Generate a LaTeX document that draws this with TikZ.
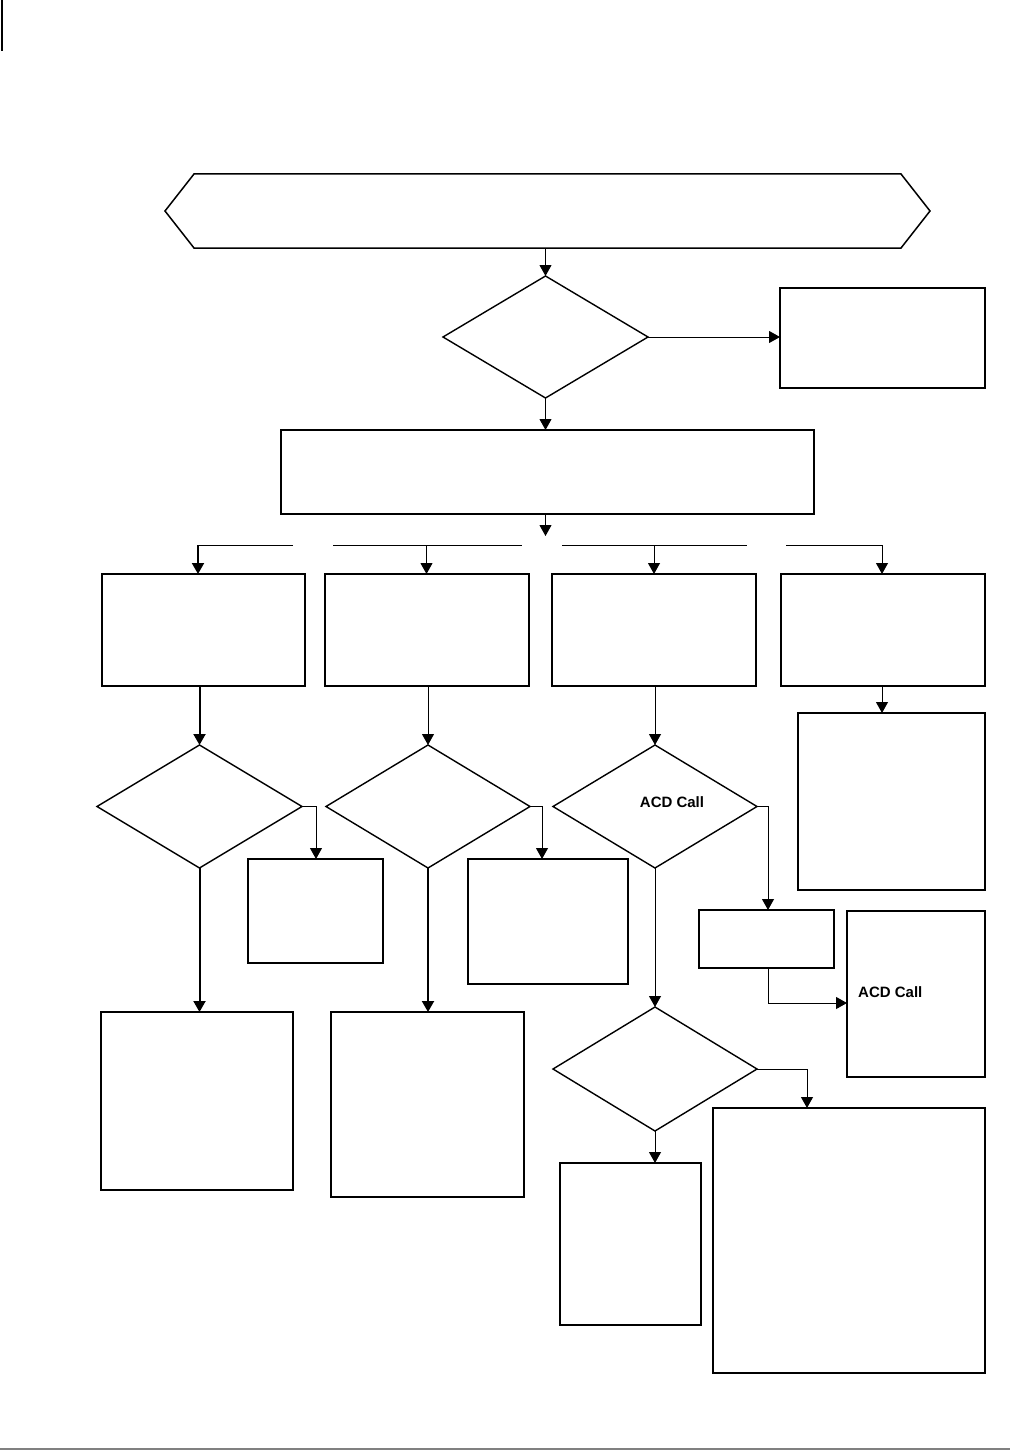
\documentclass[tikz,border=0pt]{standalone}
\usepackage{fontspec}
\setmainfont{Liberation Sans}
\usetikzlibrary{shapes.geometric,arrows.meta}
\tikzset{
  boxn/.style={draw,rectangle,line width=1.7pt,inner sep=0pt,outer sep=0pt},
  dia/.style={draw,diamond,line width=1.4pt,inner sep=0pt,outer sep=0pt},
  arr/.style={line width=1pt,-{Triangle[length=11pt,width=12pt]}},
  thickarr/.style={line width=2pt,-{Triangle[length=11pt,width=12pt]}},
  thinln/.style={line width=1pt},
  lbl/.style={font=\fontsize{15}{18}\selectfont\bfseries,inner sep=0pt}
}
\begin{document}
\begin{tikzpicture}[x=1pt,y=-1pt]
\useasboundingbox (0,0) rectangle (1010,1450);
% page decorations
\draw[line width=1.5pt] (2,0) -- (2,51);
\fill[gray] (0,1447.5) rectangle (1010,1450);
% hexagon
\node[inner sep=0pt,outer sep=0pt,minimum width=707pt,minimum height=74pt] (hex) at (547.5,211) {};
\draw[line width=1.5pt,line join=miter] (hex.north west) -- (hex.north east) -- ([xshift=29pt]hex.east) -- (hex.south east) -- (hex.south west) -- ([xshift=-29pt]hex.west) -- cycle;
% nodes
\node[dia,minimum width=205pt,minimum height=122pt] (D1) at (545.5,337) {};
\node[boxn,minimum width=205pt,minimum height=100pt] (R1) at (882.5,338) {};
\node[boxn,minimum width=533pt,minimum height=84pt] (Big) at (547.5,472) {};
\node[boxn,minimum width=203pt,minimum height=112pt] (B1) at (203.5,630) {};
\node[boxn,minimum width=204pt,minimum height=112pt] (B2) at (427,630) {};
\node[boxn,minimum width=204pt,minimum height=112pt] (B3) at (654,630) {};
\node[boxn,minimum width=204pt,minimum height=112pt] (B4) at (883,630) {};
\node[dia,minimum width=205pt,minimum height=123pt] (D2) at (199.5,806.5) {};
\node[dia,minimum width=204pt,minimum height=123pt] (D3) at (428,806.5) {};
\node[dia,minimum width=204pt,minimum height=123pt] (D4) at (655,806.5) {};
\node[dia,minimum width=204pt,minimum height=124pt] (D5) at (655,1069) {};
\node[boxn,minimum width=135pt,minimum height=104pt] (S1) at (315.5,911) {};
\node[boxn,minimum width=160pt,minimum height=125pt] (S2) at (548,921.5) {};
\node[boxn,minimum width=192pt,minimum height=178pt] (L1) at (197,1101) {};
\node[boxn,minimum width=193pt,minimum height=185pt] (L2) at (427.5,1104.5) {};
\node[boxn,minimum width=187pt,minimum height=177pt] (R2) at (891.5,801.5) {};
\node[boxn,minimum width=135pt,minimum height=58pt] (M) at (766.5,939) {};
\node[boxn,minimum width=138pt,minimum height=166pt] (N) at (916,994) {};
\node[boxn,minimum width=141pt,minimum height=162pt] (T) at (630.5,1244) {};
\node[boxn,minimum width=272pt,minimum height=265pt] (BB) at (849,1240.5) {};
% texts
\node[lbl] (t1) at (672,802) {ACD Call};
\node[lbl,anchor=west] (t2) at (858,992) {ACD Call};
% coordinates
\coordinate (bigend) at (545.5,536);
\coordinate (h1) at (198,545);
\coordinate (h2) at (426.5,545);
\coordinate (h3) at (654,545);
\coordinate (h4) at (882,545);
\path (D2.east) ++(14,0) coordinate (d2r);
\path (D3.east) ++(12,0) coordinate (d3r);
\path (D4.east) ++(11,0) coordinate (d4r);
\path (D5.east) ++(50,0) coordinate (d5r);
% connectors
\draw[arr] (D1.north |- hex.south) -- (D1.north);
\draw[arr] (D1.east) -- (D1.east -| R1.west);
\draw[arr] (D1.south) -- (D1.south |- Big.north);
\draw[arr] (Big.south -| bigend) -- (bigend);
\draw[thinln] (293,545) -- (h1);
\draw[thickarr] (h1) -- (h1 |- B1.north);
\draw[thinln] (333,545) -- (522,545);
\draw[arr] (h2) -- (h2 |- B2.north);
\draw[thinln] (562,545) -- (747,545);
\draw[arr] (h3) -- (h3 |- B3.north);
\draw[thinln] (786,545) -- (h4);
\draw[arr] (h4) -- (h4 |- B4.north);
\draw[thickarr] (B1.south -| D2.north) -- (D2.north);
\draw[arr] (D2.east) -- (d2r) -- (d2r |- S1.north);
\draw[thickarr] (D2.south) -- (D2.south |- L1.north);
\draw[arr] (B2.south -| D3.north) -- (D3.north);
\draw[arr] (D3.east) -- (d3r) -- (d3r |- S2.north);
\draw[thickarr] (D3.south) -- (D3.south |- L2.north);
\draw[arr] (B3.south -| D4.north) -- (D4.north);
\draw[arr] (h4 |- B4.south) -- (h4 |- R2.north);
\draw[arr] (D4.east) -- (d4r) -- (d4r |- M.north);
\draw[arr] (d4r |- M.south) |- (N.west |- 0,1003);
\draw[arr] (D4.south) -- (D5.north);
\draw[arr] (D5.east) -- (d5r) -- (d5r |- BB.north);
\draw[arr] (D5.south) -- (D5.south |- T.north);
\end{tikzpicture}
\end{document}
